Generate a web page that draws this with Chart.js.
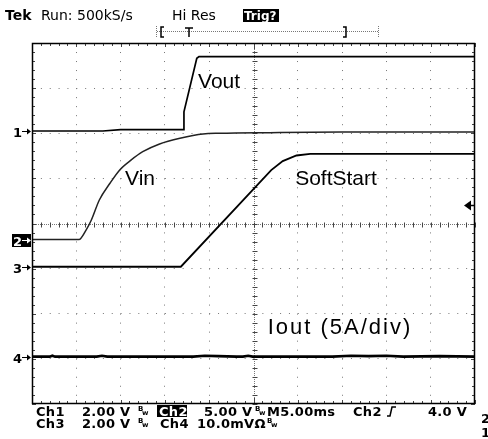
<!DOCTYPE html>
<html>
<head>
<meta charset="utf-8">
<script src="https://cdn.jsdelivr.net/npm/chart.js@4/dist/chart.umd.min.js"></script>
<style>
  html, body { margin: 0; padding: 0; background: #fff; }
  canvas { display: block; }
</style>
</head>
<body>
<canvas id="scope" width="488" height="439"></canvas>
<script>
// time in ms (M5.00ms/div, 10 div), values in volts / amps
var vout_t = [0, 8, 10, 17.05, 17.15, 18.6, 18.85, 50];
var vout_v = [0, 0, 0.06, 0.06, 0.85, 3.22, 3.3, 3.3];
var vin_t = [0, 5.3, 6.1, 6.7, 7.6, 8.8, 9.9, 11.2, 12.5, 14.4, 16.7, 19.3, 21.2, 26.8, 35, 50];
var vin_v = [0, 0, 1.05, 2.16, 4.38, 6.23, 7.71, 8.82, 9.73, 10.59, 11.22, 11.7, 11.77, 11.84, 11.9, 11.9];
var ss_t = [0, 16.8, 27.0, 28.3, 29.85, 31.4, 50];
var ss_v = [0, 0, 4.28, 4.68, 4.93, 5.0, 5.0];
var iout_t = [0, 2, 2.3, 2.6, 7.3, 7.9, 8.5, 18.2, 19.5, 21, 23.1, 23.8, 24.4, 24.9, 33.9, 36, 38, 40, 41.9, 46, 50];
var iout_a = [0.05, 0.05, 0.15, 0.05, 0.05, 0.15, 0.05, 0.05, 0.15, 0.1, 0.05, 0.05, 0.15, 0.05, 0.05, 0.15, 0.1, 0.15, 0.05, 0.1, 0.05];

// channel settings: ground position (div) and volts (amps) per div
var ch_offset = [2.05, -0.355, -0.958, -2.96];
var ch_scale = [2, 5, 2, 5];
var trig_level = 4.0; // Ch2

function pts(t, v, ch) {
  return t.map(function (x, i) { return { x: x, y: ch_offset[ch] + v[i] / ch_scale[ch] }; });
}

function seg(c, x1, y1, x2, y2) {
  c.beginPath(); c.moveTo(x1, y1); c.lineTo(x2, y2); c.stroke();
}

var scopeDecor = {
  id: 'scopeDecor',
  beforeDatasetsDraw: function (chart) {
    var c = chart.ctx, a = chart.chartArea, xs = chart.scales.x, ys = chart.scales.y;
    var cx = Math.round(xs.getPixelForValue(25)) + 0.5;
    var cy = Math.round(ys.getPixelForValue(0)) + 0.5;
    c.save();
    c.lineWidth = 1;
    c.strokeStyle = '#777';
    c.setLineDash([1, 1]);
    seg(c, a.left, cy, a.right, cy);
    seg(c, cx, a.top, cx, a.bottom);
    c.setLineDash([]);
    c.strokeStyle = '#444';
    for (var t = 0; t <= 50; t += 1) {
      var x = Math.round(xs.getPixelForValue(t)) + 0.5;
      var len = t % 5 === 0 ? 4 : 3;
      if (t === 25) len = 6;
      seg(c, x, cy - 2, x, cy + 3);
      seg(c, x, a.top, x, a.top + len);
      seg(c, x, a.bottom, x, a.bottom - len);
    }
    for (var k = -20; k <= 20; k++) {
      var d = k / 5;
      var y = Math.round(ys.getPixelForValue(d)) + 0.5;
      var l2 = k % 5 === 0 ? 4 : 3;
      seg(c, cx - 2, y, cx + 3, y);
      seg(c, a.left, y, a.left + l2, y);
      seg(c, a.right, y, a.right - l2, y);
    }
    c.restore();
  },
  afterDraw: function (chart) {
    var c = chart.ctx, a = chart.chartArea, xs = chart.scales.x, ys = chart.scales.y;
    c.save();
    // frame
    c.strokeStyle = '#000';
    c.lineWidth = 1.5;
    c.strokeRect(a.left + 0.5, a.top + 0.5, a.right - a.left - 1, a.bottom - a.top - 1);

    // channel ground markers
    c.font = 'bold 13px "DejaVu Sans"';
    c.textBaseline = 'alphabetic';
    for (var i = 0; i < 4; i++) {
      var y = Math.round(ys.getPixelForValue(ch_offset[i])) + 0.5;
      var fg = '#000';
      if (i === 1) {
        c.fillStyle = '#000';
        c.fillRect(12, y - 6.5, 19, 13);
        fg = '#fff';
      }
      c.fillStyle = fg; c.strokeStyle = fg; c.lineWidth = 1;
      c.fillText(String(i + 1), 13, y + 5);
      seg(c, 22, y, 30, y);
      c.beginPath(); c.moveTo(31, y); c.lineTo(27, y - 3); c.lineTo(27, y + 3); c.closePath(); c.fill();
    }

    // trigger level arrow (right edge)
    var ty = Math.round(ys.getPixelForValue(ch_offset[1] + trig_level / ch_scale[1])) + 2.5;
    c.fillStyle = '#000'; c.strokeStyle = '#000'; c.lineWidth = 1.5;
    seg(c, 468, ty, a.right, ty);
    c.beginPath(); c.moveTo(464, ty); c.lineTo(471, ty - 5); c.lineTo(471, ty + 5); c.closePath(); c.fill();

    // trace labels
    c.fillStyle = '#000';
    c.font = '21px "Liberation Sans"';
    var labels = [['Vout', 18.74, 3.0], ['Vin', 10.5, 0.85], ['SoftStart', 29.7, 0.85]];
    labels.forEach(function (l) {
      c.fillText(l[0], xs.getPixelForValue(l[1]), ys.getPixelForValue(l[2]));
    });
    c.font = '22px "Liberation Sans"';
    c.letterSpacing = '2px';
    c.fillText('Iout (5A/div)', xs.getPixelForValue(26.6), ys.getPixelForValue(-2.45));
    c.letterSpacing = '0px';

    // header
    c.font = 'bold 14px "DejaVu Sans"';
    c.fillText('Tek', 5, 20);
    c.font = '14px "DejaVu Sans"';
    c.fillText('Run: 500kS/s', 41, 20);
    c.fillText('Hi Res', 172, 20);
    c.fillRect(243, 9, 36, 13);
    c.fillStyle = '#fff';
    c.font = 'bold 12px "DejaVu Sans"';
    c.fillText('Trig?', 244, 20);

    // record bracket
    c.fillStyle = '#000';
    c.strokeStyle = '#777'; c.lineWidth = 1;
    c.setLineDash([1, 1]);
    seg(c, 157, 31.5, 378, 31.5);
    seg(c, 156.5, 26, 156.5, 38);
    seg(c, 378.5, 26, 378.5, 38);
    c.setLineDash([]);
    c.strokeStyle = '#000'; c.lineWidth = 1.5;
    c.beginPath(); c.moveTo(164, 27); c.lineTo(161, 27); c.lineTo(161, 37); c.lineTo(164, 37); c.stroke();
    c.beginPath(); c.moveTo(343, 27); c.lineTo(346, 27); c.lineTo(346, 37); c.lineTo(343, 37); c.stroke();
    c.beginPath(); c.moveTo(185, 28); c.lineTo(193, 28); c.moveTo(189, 28); c.lineTo(189, 37); c.stroke();

    // readout
    var b1 = 416, b2 = 427.5;
    c.font = 'bold 13px "DejaVu Sans"';
    c.letterSpacing = '0.3px';
    c.fillStyle = '#000';
    c.fillText('Ch1', 36, b1);
    c.fillText('2.00 V', 82, b1);
    c.fillText('5.00 V', 204, b1);
    c.fillText('M5.00ms', 267, b1);
    c.fillText('Ch2', 353, b1);
    c.fillText('4.0 V', 428, b1);
    c.fillText('2', 481, 423);
    c.fillText('Ch3', 36, b2);
    c.fillText('2.00 V', 82, b2);
    c.fillText('Ch4', 160, b2);
    c.fillText('10.0mV\u03A9', 197, b2);
    c.fillText('1', 481, 437);
    c.fillRect(157, 405, 30, 12);
    c.fillStyle = '#fff';
    c.fillText('Ch2', 159, b1);
    c.fillStyle = '#000';
    c.letterSpacing = '0px';
    // bandwidth-limit marks
    c.font = 'bold 7px "DejaVu Sans"';
    [[138, b1], [255, b1], [138, b2], [267, b2]].forEach(function (p) {
      c.fillText('B', p[0], p[1] - 5);
      c.fillText('w', p[0] + 4, p[1] - 1);
    });
    // rising edge symbol
    c.strokeStyle = '#000'; c.lineWidth = 1.5;
    c.beginPath(); c.moveTo(387, b1); c.lineTo(390, b1); c.lineTo(392, b1 - 9); c.lineTo(396, b1 - 9); c.stroke();
    c.restore();
  }
};

function gridColor(skip) {
  return function (ctx) {
    return skip.indexOf(ctx.tick && ctx.tick.value) >= 0 ? 'rgba(0,0,0,0)' : '#777';
  };
}

var ctx = document.getElementById('scope').getContext('2d');
var myChart = new Chart(ctx, {
  type: 'line',
  data: {
    datasets: [
      { label: 'Vout', data: pts(vout_t, vout_v, 0), borderColor: '#000', borderWidth: 1.7 },
      { label: 'Vin', data: pts(vin_t, vin_v, 1), borderColor: '#222', borderWidth: 1.5, cubicInterpolationMode: 'monotone' },
      { label: 'SoftStart', data: pts(ss_t, ss_v, 2), borderColor: '#000', borderWidth: 1.8 },
      { label: 'Iout', data: pts(iout_t, iout_a, 3), borderColor: '#000', borderWidth: 2.6 }
    ]
  },
  options: {
    responsive: false,
    animation: false,
    devicePixelRatio: 1,
    layout: { padding: { left: 32, top: 43, right: 13, bottom: 35 } },
    elements: { point: { radius: 0 }, line: { tension: 0 } },
    plugins: { legend: { display: false }, tooltip: { enabled: false } },
    scales: {
      x: {
        type: 'linear', min: 0, max: 50,
        ticks: { display: false, stepSize: 5 },
        grid: { color: gridColor([0, 25, 50]), drawTicks: false, lineWidth: 1 },
        border: { display: false, dash: [1, 8.02] }
      },
      y: {
        type: 'linear', min: -4, max: 4,
        ticks: { display: false, stepSize: 1 },
        grid: { color: gridColor([-4, 0, 4]), drawTicks: false, lineWidth: 1 },
        border: { display: false, dash: [1, 7.86] }
      }
    }
  },
  plugins: [scopeDecor]
});
</script>
</body>
</html>
